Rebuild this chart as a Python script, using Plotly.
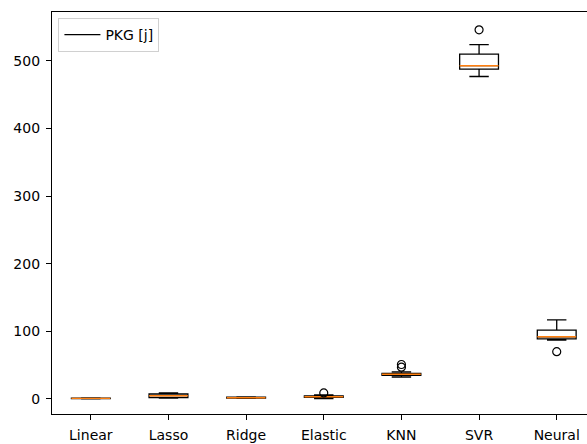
import plotly.graph_objects as go

categories = ["Linear", "Lasso", "Ridge", "Elastic", "KNN", "SVR", "Neural"]
lower_whisker = [0.3, 1.5, 0.8, 0.5, 32.5, 477, 87]
q1 = [0.6, 2.0, 1.2, 2.3, 35.0, 488, 89]
median = [0.9, 4.9, 1.8, 3.4, 36.5, 493, 92]
q3 = [1.2, 7.4, 2.6, 4.6, 38.0, 510, 102]
upper_whisker = [1.6, 8.9, 3.2, 6.0, 40.0, 524, 117]
outlier_cat = ["Elastic", "KNN", "KNN", "SVR", "Neural"]
outlier_val = [9.0, 47.0, 51.0, 546.0, 70.0]
y_ticks = [0, 100, 200, 300, 400, 500]
legend_label = "PKG [j]"

pos = list(range(1, len(categories) + 1))
pos_of = dict(zip(categories, pos))
box_w = 0.5

fig = go.Figure()
fig.add_trace(go.Box(
    x=pos, q1=q1, median=median, q3=q3,
    lowerfence=lower_whisker, upperfence=upper_whisker,
    width=box_w, whiskerwidth=0.5, boxpoints=False,
    fillcolor="rgba(255,255,255,0)",
    line=dict(color="black", width=1.3),
    showlegend=False, hoverinfo="skip",
))

mx, my = [], []
for p, m in zip(pos, median):
    mx += [p - box_w / 2, p + box_w / 2, None]
    my += [m, m, None]
fig.add_trace(go.Scatter(x=mx, y=my, mode="lines",
                         line=dict(color="#ff7f0e", width=1.4),
                         showlegend=False, hoverinfo="skip"))

fig.add_trace(go.Scatter(
    x=[pos_of[c] for c in outlier_cat], y=outlier_val, mode="markers",
    marker=dict(symbol="circle-open", size=8, color="black",
                line=dict(color="black", width=1.2)),
    showlegend=False, hoverinfo="skip"))

fig.add_trace(go.Scatter(x=[None], y=[None], mode="lines", name=legend_label,
                         line=dict(color="black", width=1.3)))

font = dict(family="DejaVu Sans", size=14, color="black")
fig.update_layout(
    width=587, height=444,
    margin=dict(l=52, r=0, t=12, b=30),
    paper_bgcolor="white", plot_bgcolor="white",
    font=font,
    showlegend=True,
    legend=dict(x=0.012, y=0.985, xanchor="left", yanchor="top",
                bgcolor="white", bordercolor="#d0d0d0", borderwidth=1,
                font=font, itemwidth=36, tracegroupgap=0),
    xaxis=dict(range=[0.5, 7.39], tickvals=pos, ticktext=categories,
               showgrid=False, zeroline=False, showline=True, linecolor="black",
               linewidth=1.3, mirror=True, ticks="outside", ticklen=5,
               tickwidth=1.2, tickcolor="black", ticklabelstandoff=3),
    yaxis=dict(range=[-22.2, 572.4], tickvals=y_ticks,
               showgrid=False, zeroline=False, showline=True, linecolor="black",
               linewidth=1.3, ticks="outside", ticklen=5,
               tickwidth=1.2, tickcolor="black", ticklabelstandoff=3),
)

fig.write_html("out.html", config={"displayModeBar": False},
               post_script="document.body.style.margin='0';document.body.style.overflow='hidden';")
